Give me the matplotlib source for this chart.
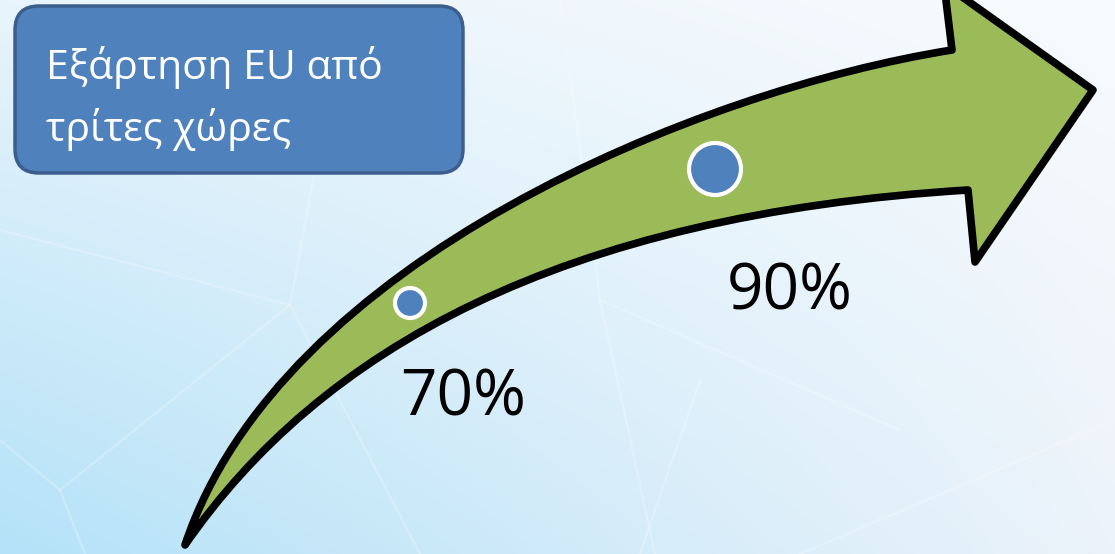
import numpy as np
import matplotlib
matplotlib.use("Agg")
import matplotlib.pyplot as plt
from matplotlib.path import Path
from matplotlib.patches import PathPatch, FancyBboxPatch, Circle

W, H = 1115, 554

# content
title_lines = ["Εξάρτηση EU από", "τρίτες χώρες"]
stage_labels = ["70%", "90%"]
stage_dots = [(410, 303, 15), (715, 169, 26)]   # x, y, radius (px)
stage_text = [(400, 415), (727, 310)]           # left, baseline (px)

green = "#9BBB59"
blue = "#4F81BD"
box_edge = "#3B5E8C"

fig = plt.figure(figsize=(W / 100, H / 100), dpi=100)
ax = fig.add_axes([0, 0, 1, 1])
ax.set_xlim(0, W)
ax.set_ylim(H, 0)
ax.axis("off")

# background gradient (corner colours, bilinear)
tl = np.array([0xE8, 0xF4, 0xFB]) / 255
tr = np.array([0xF8, 0xFB, 0xFE]) / 255
bl = np.array([0xB4, 0xE2, 0xF8]) / 255
br = np.array([0xEC, 0xF3, 0xFA]) / 255
u = np.linspace(0, 1, 300)[None, :, None]
v = np.linspace(0, 1, 150)[:, None, None]
img = (1 - v) * ((1 - u) * tl + u * tr) + v * ((1 - u) * bl + u * br)
ax.imshow(img, extent=(0, W, H, 0), aspect="auto", interpolation="bicubic", zorder=0)

# faint facets in the background
facets = [
    [(0, 230), (290, 305), (315, 170)],
    [(290, 305), (60, 490), (0, 440)],
    [(60, 490), (85, 554)],
    [(290, 305), (420, 554)],
    [(600, 300), (655, 554)],
    [(700, 380), (640, 554)],
    [(800, 554), (1115, 420)],
    [(560, 0), (600, 300), (900, 430)],
]
for seg in facets:
    xs, ys = zip(*seg)
    ax.plot(xs, ys, color="white", lw=1.8, alpha=0.22, zorder=1)

# curved arrow
tail = (185, 545)
verts = [
    tail,
    (280, 260), (700, 90), (952, 50),
    (944, -16), (1093, 90), (975, 262), (968, 190),
    (560, 215), (320, 350), tail,
    tail,
]
codes = [Path.MOVETO,
         Path.CURVE4, Path.CURVE4, Path.CURVE4,
         Path.LINETO, Path.LINETO, Path.LINETO, Path.LINETO,
         Path.CURVE4, Path.CURVE4, Path.CURVE4,
         Path.CLOSEPOLY]
arrow = PathPatch(Path(verts, codes), facecolor=green, edgecolor="black",
                  lw=5.5, joinstyle="round", zorder=2)
ax.add_patch(arrow)

# dots
for x, y, r in stage_dots:
    ax.add_patch(Circle((x, y), r, facecolor=blue, edgecolor="white", lw=3, zorder=3))

# percentages
for (x, y), lab in zip(stage_text, stage_labels):
    ax.text(x, y, lab, fontsize=46, family="Open Sans", color="black",
            ha="left", va="baseline", zorder=4)

# title box
box = FancyBboxPatch((15, 6), 448, 167, boxstyle="round,pad=0,rounding_size=24",
                     facecolor=blue, edgecolor=box_edge, lw=2.5, zorder=3)
ax.add_patch(box)
for i, line in enumerate(title_lines):
    ax.text(46, 79 + 62 * i, line, fontsize=29.5, family="Open Sans", color="white",
            ha="left", va="baseline", zorder=4)

fig.savefig("out.png", dpi=100)
